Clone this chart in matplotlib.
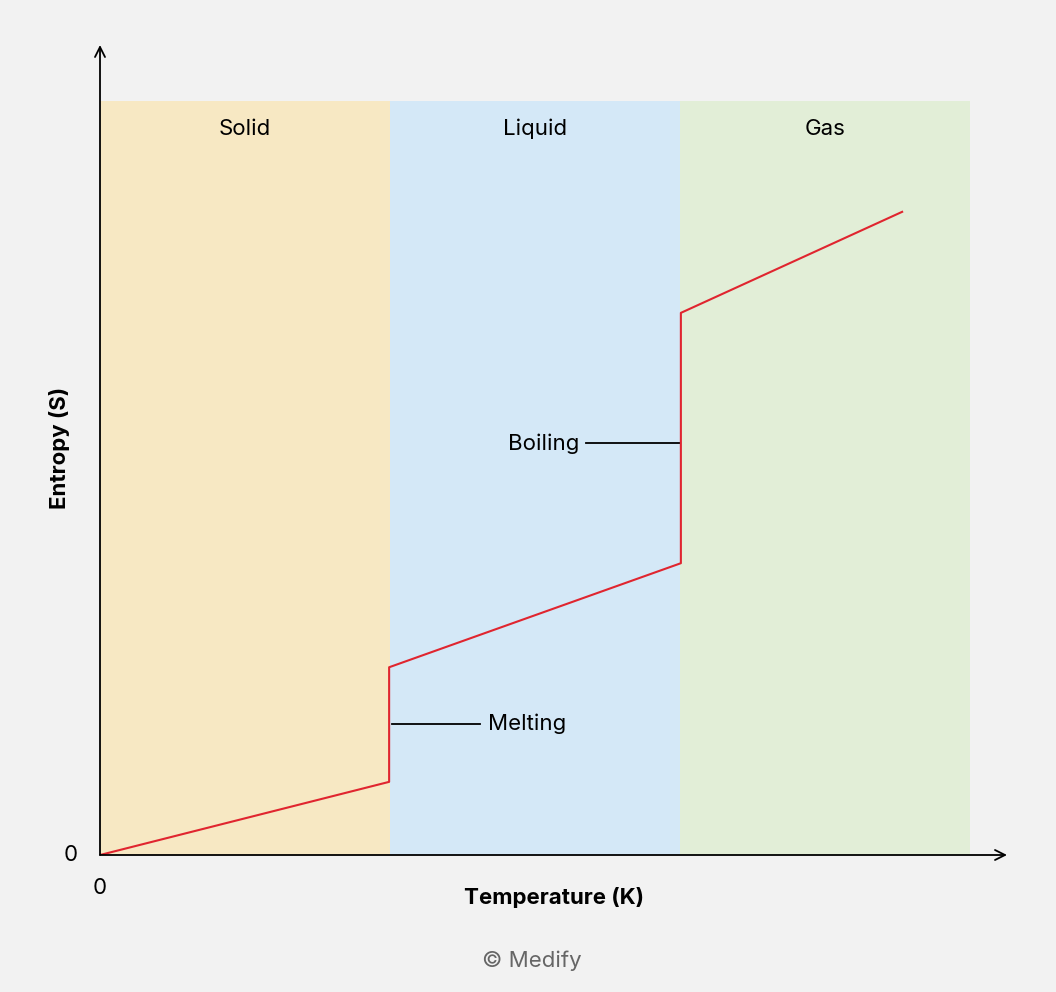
import matplotlib
matplotlib.use("Agg")
import matplotlib.pyplot as plt

plt.rcParams['font.family'] = ['Inter', 'DejaVu Sans']

phases = ["Solid", "Liquid", "Gas"]
phase_colors = ["#f7e8c3", "#d4e8f7", "#e2eed7"]
phase_edges = [0, 1, 2, 3]
temp = [0, 0.997, 0.997, 2.003, 2.003, 2.766]
entropy = [0, 0.97, 2.49, 3.87, 7.19, 8.53]
band_top = 10

fig = plt.figure(figsize=(10.56, 9.92), dpi=100, facecolor="#f2f2f2")
ax = fig.add_axes([100/1056, 137/992, 907/1056, 810/992])
ax.set_facecolor("#f2f2f2")
ax.set_xlim(0, 907/290)
ax.set_ylim(0, 810/75.4)

fs = 16
for i, (name, c) in enumerate(zip(phases, phase_colors)):
    ax.fill_between([phase_edges[i], phase_edges[i+1]], 0, band_top, color=c, lw=0, zorder=0)
    ax.text((phase_edges[i]+phase_edges[i+1])/2, 9.63, name, ha="center", va="center", fontsize=fs)

ax.plot(temp, entropy, color="#e0252f", lw=1.5, zorder=3)

ax.plot([1.007, 1.31], [1.74, 1.74], color="black", lw=1.3)
ax.text(1.338, 1.74, "Melting", ha="left", va="center", fontsize=fs)
ax.plot([1.676, 2.0], [5.46, 5.46], color="black", lw=1.3)
ax.text(1.652, 5.46, "Boiling", ha="right", va="center", fontsize=fs)

for s in ax.spines.values():
    s.set_visible(False)
ax.set_xticks([]); ax.set_yticks([])
ax.annotate("", xy=(907/290, 0), xytext=(0, 0), xycoords="data",
            arrowprops=dict(arrowstyle="->", lw=1.3, color="black", mutation_scale=18, shrinkA=0, shrinkB=0), annotation_clip=False)
ax.annotate("", xy=(0, 810/75.4), xytext=(0, 0), xycoords="data",
            arrowprops=dict(arrowstyle="->", lw=1.3, color="black", mutation_scale=18, shrinkA=0, shrinkB=0), annotation_clip=False)

fig.text(100/1056, 1-888/992, "0", ha="center", va="center", fontsize=fs)
fig.text(71/1056, 1-855/992, "0", ha="center", va="center", fontsize=fs)
fig.text(554/1056, 1-898/992, "Temperature (K)", ha="center", va="center", fontsize=fs, fontweight="bold")
fig.text(60/1056, 1-448/992, "Entropy (S)", ha="center", va="center", fontsize=fs, fontweight="bold", rotation=90)
fig.text(532/1056, 1-961/992, "© Medify", ha="center", va="center", fontsize=fs, color="#666666")

fig.savefig("out.png", dpi=100, facecolor=fig.get_facecolor())
